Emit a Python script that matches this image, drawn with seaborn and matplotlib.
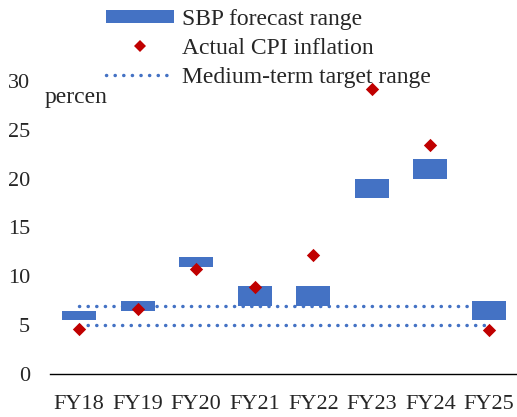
import matplotlib
matplotlib.use("Agg")
import matplotlib.pyplot as plt
import seaborn as sns
import numpy as np
from matplotlib.patches import Patch
from matplotlib.lines import Line2D

# Fiscal years and SBP forecast ranges (percent)
years = ["FY18", "FY19", "FY20", "FY21", "FY22", "FY23", "FY24", "FY25"]
forecast_low = [5.5, 6.5, 11.0, 7.0, 7.0, 18.0, 20.0, 5.5]
forecast_high = [6.5, 7.5, 12.0, 9.0, 9.0, 20.0, 22.0, 7.5]
# Realised CPI inflation (percent)
actual_cpi = [4.6, 6.7, 10.8, 8.9, 12.2, 29.2, 23.4, 4.5]
# Medium-term inflation target band
target_band = [5.0, 7.0]
y_ticks = [0, 5, 10, 15, 20, 25, 30]

BLUE = "#4472C4"
RED = "#C00000"
FONT = "Liberation Serif"
FS_TICK = 16
FS_TEXT = 17

sns.set_theme(style="white")
plt.rcParams["font.family"] = [FONT, "DejaVu Serif"]

W, H = 517, 417
fig = plt.figure(figsize=(W / 100, H / 100), dpi=100)
ax = fig.add_axes([49.7 / W, 43 / H, (518.3 - 49.7) / W, 293 / H])

heights = [h - l for h, l in zip(forecast_high, forecast_low)]
DOTS = (0, (0.05, 2.43))

# Target band drawn first so the forecast bars sit over it
ax.hlines(target_band, xmin=0, xmax=len(years) - 1, colors=BLUE,
          linewidth=2.5, linestyles=[DOTS], zorder=1)
for coll in ax.collections:
    coll.set_capstyle("round")

sns.barplot(x=years, y=heights, bottom=forecast_low, width=0.58,
            color=BLUE, saturation=1, linewidth=0, ax=ax, zorder=2)

sns.scatterplot(x=years, y=actual_cpi, marker="D", s=46, color=RED,
                linewidth=0, ax=ax, zorder=4)

ax.set_xlim(-0.5, len(years) - 0.5)
ax.set_ylim(0, 30)
ax.set_yticks(y_ticks)
ax.set_yticklabels([str(t) for t in y_ticks])
ax.tick_params(axis="y", length=0, pad=14, labelsize=FS_TICK)
ax.tick_params(axis="x", length=0, pad=15, labelsize=FS_TICK)
for lab in ax.get_xticklabels() + ax.get_yticklabels():
    lab.set_fontfamily(FONT)
ax.set_xlabel("")
ax.set_ylabel("")
for side in ["top", "right", "left"]:
    ax.spines[side].set_visible(False)
ax.spines["bottom"].set_color("black")
ax.spines["bottom"].set_linewidth(1.0)
ax.grid(False)

fig.text(45 / W, 1 - 103 / H, "percen", fontsize=FS_TEXT, family=FONT,
         ha="left", va="baseline")

handles = [
    Patch(facecolor=BLUE, edgecolor="none"),
    Line2D([], [], marker="D", color=RED, linestyle="none", markersize=6.4,
           markeredgewidth=0),
    Line2D([], [], color=BLUE, linewidth=2.5, linestyle=DOTS,
           dash_capstyle="round"),
]
labels = ["SBP forecast range", "Actual CPI inflation",
          "Medium-term target range"]
fig.legend(handles, labels, loc="upper left",
           bbox_to_anchor=(106 / W, 1 - 9 / H), frameon=False,
           prop={"family": FONT, "size": FS_TEXT}, handlelength=2.9,
           handleheight=0.48, handletextpad=0.3, labelspacing=0.33,
           borderpad=0, borderaxespad=0)

fig.savefig("out.png", dpi=100)
